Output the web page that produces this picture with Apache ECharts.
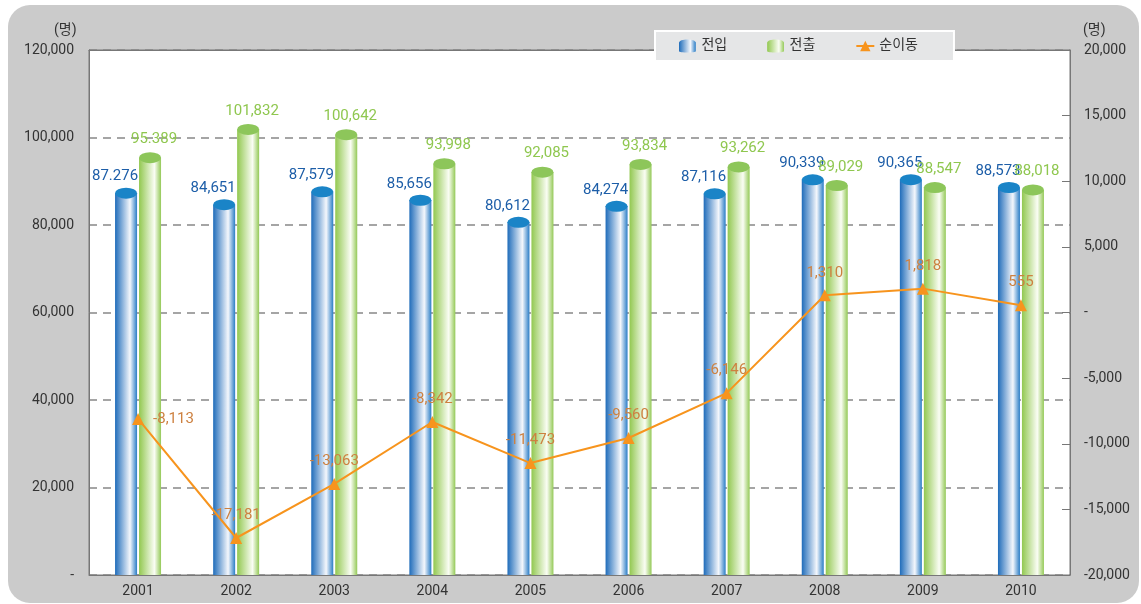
<!DOCTYPE html>
<html>
<head>
<meta charset="utf-8">
<script src="https://cdn.jsdelivr.net/npm/echarts@6/dist/echarts.min.js"></script>
<style>
  html, body { margin: 0; padding: 0; background: #fff; }
  #chart { width: 1141px; height: 604px; }
</style>
</head>
<body>
<div id="chart"></div>
<script>
// 연도 / 전입 / 전출 / 순이동
const years = ['2001', '2002', '2003', '2004', '2005', '2006', '2007', '2008', '2009', '2010'];
const moveIn = [87276, 84651, 87579, 85656, 80612, 84274, 87116, 90339, 90365, 88573];
const moveOut = [95389, 101832, 100642, 93998, 92085, 93834, 93262, 89029, 88547, 88018];
const netMove = [-8113, -17181, -13063, -8342, -11473, -9560, -6146, 1310, 1818, 555];

const fontFamily = 'Roboto, "Noto Sans CJK KR", sans-serif';
const fmt = v => v === 0 ? '-' : v.toLocaleString('en-US');
// 2001년 라벨은 원본처럼 마침표 사용
const barLabel = p => {
  const s = p.value.toLocaleString('en-US');
  return p.dataIndex === 0 ? s.replace(',', '.') : s;
};

const blueGrad = new echarts.graphic.LinearGradient(0, 0, 1, 0, [
  { offset: 0, color: '#1f6cba' },
  { offset: 0.68, color: '#f4f7fc' },
  { offset: 1, color: '#2a7dc6' }
]);
const greenGrad = new echarts.graphic.LinearGradient(0, 0, 1, 0, [
  { offset: 0, color: '#92c850' },
  { offset: 0.7, color: '#fafdf4' },
  { offset: 1, color: '#94c957' }
]);

// 원통 모양 범례 아이콘
const cylinderIcon = 'path://M0,4 C0,-1.3 20,-1.3 20,4 L20,14 C20,16 0,16 0,14 Z';

// 라벨 위치 (순이동)
const netPos = ['right', 'top', 'top', 'top', 'top', 'top', 'top', 'top', 'top', 'top'];

const chart = echarts.init(document.getElementById('chart'));

const option = {
  animation: false,
  textStyle: { fontFamily: fontFamily },
  graphic: [
    {
      type: 'rect', z: -10, silent: true,
      shape: { x: 8, y: 5, width: 1131, height: 598, r: 22 },
      style: { fill: '#cbcbcb' }
    },
    {
      type: 'text', left: 54, top: 24,
      style: { text: '(명)', fontSize: 14, fill: '#333', fontFamily: fontFamily }
    },
    {
      type: 'text', left: 1083, top: 24,
      style: { text: '(명)', fontSize: 14, fill: '#333', fontFamily: fontFamily }
    }
  ],
  legend: {
    data: [
      { name: '전입', icon: cylinderIcon },
      { name: '전출', icon: cylinderIcon },
      { name: '순이동' }
    ],
    left: 655,
    top: 31,
    z: 20,
    padding: [8, 36, 8, 24],
    itemGap: 40,
    itemWidth: 18,
    itemHeight: 13,
    backgroundColor: '#e5e6e7',
    borderColor: '#fff',
    borderWidth: 2,
    textStyle: { fontSize: 14, color: '#333', fontFamily: fontFamily }
  },
  grid: {
    left: 89,
    right: 71,
    top: 50,
    bottom: 29,
    show: true,
    backgroundColor: '#fff',
    borderColor: '#777',
    borderWidth: 1
  },
  xAxis: [
    {
      type: 'category',
      data: years,
      axisLine: { onZero: false, lineStyle: { color: '#777' } },
      axisTick: { inside: true, length: 8, interval: 0, lineStyle: { color: '#777' } },
      axisLabel: { fontSize: 14, color: '#333', margin: 9 }
    },
    {
      // 위쪽 테두리 (실선)
      type: 'category',
      data: years,
      position: 'top',
      axisLine: { show: true, onZero: false, lineStyle: { color: '#777' } },
      axisTick: { show: false },
      axisLabel: { show: false },
      z: 10
    }
  ],
  yAxis: [
    {
      type: 'value',
      min: 0,
      max: 120000,
      interval: 20000,
      axisLine: { show: true, lineStyle: { color: '#777' } },
      axisTick: { show: false },
      axisLabel: { fontSize: 14, color: '#333', margin: 15, formatter: fmt },
      splitLine: { lineStyle: { color: '#888', type: [8, 6], width: 1.5 } }
    },
    {
      type: 'value',
      min: -20000,
      max: 20000,
      interval: 5000,
      axisLine: { show: true, lineStyle: { color: '#777' } },
      axisTick: { show: true, inside: true, length: 8, lineStyle: { color: '#777' } },
      axisLabel: { fontSize: 14, color: '#333', margin: 14, formatter: fmt },
      splitLine: { show: false }
    }
  ],
  series: [
    {
      name: '전입',
      type: 'bar',
      data: moveIn,
      barWidth: 22,
      barGap: '9%',
      itemStyle: { color: blueGrad },
      label: {
        show: true, position: 'top', distance: 9, offset: [-11, 0],
        color: '#1d5ea8', fontSize: 15, formatter: barLabel
      }
    },
    {
      name: '전출',
      type: 'bar',
      data: moveOut,
      barWidth: 22,
      barGap: '9%',
      itemStyle: { color: greenGrad },
      label: {
        show: true, position: 'top', distance: 11, offset: [4, 0],
        color: '#8fc74f', fontSize: 15, formatter: barLabel
      }
    },
    {
      type: 'pictorialBar',
      data: moveIn,
      barWidth: 22,
      barGap: '9%',
      symbol: 'circle',
      symbolSize: [22, 11],
      symbolPosition: 'end',
      symbolOffset: [0, '-50%'],
      itemStyle: { color: '#1a84c7' },
      z: 3
    },
    {
      type: 'pictorialBar',
      data: moveOut,
      barWidth: 22,
      barGap: '9%',
      symbol: 'circle',
      symbolSize: [22, 11],
      symbolPosition: 'end',
      symbolOffset: [0, '-50%'],
      itemStyle: { color: '#8dc65a' },
      z: 3
    },
    {
      name: '순이동',
      type: 'line',
      yAxisIndex: 1,
      data: netMove.map((v, i) => ({
        value: v,
        label: { position: netPos[i] }
      })),
      symbol: 'triangle',
      symbolSize: 12,
      lineStyle: { color: '#f7941d', width: 2 },
      itemStyle: { color: '#f7941d' },
      label: {
        show: true, distance: 9,
        color: '#cd8140', fontSize: 15,
        formatter: p => p.value.toLocaleString('en-US')
      },
      z: 5
    }
  ]
};

chart.setOption(option);
</script>
</body>
</html>
